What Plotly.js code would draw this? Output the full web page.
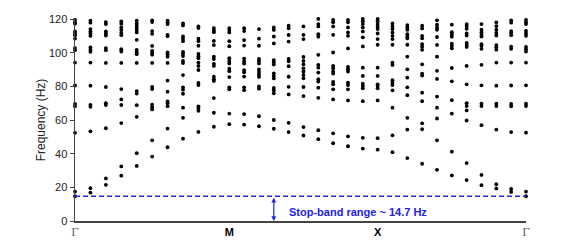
<!DOCTYPE html>
<html>
<head>
<meta charset="utf-8">
<script src="https://cdn.plot.ly/plotly-3.0.1.min.js"></script>
<style>html,body{margin:0;padding:0;background:#fff;}#chart{width:581px;height:248px;}</style>
</head>
<body>
<div id="chart"></div>
<script>
// k-path coordinate of each computed wave vector (Γ → M → X → Γ)
const kPath = [0, 1.04, 2.08, 3.12, 4.16, 5.2, 6.24, 7.28, 8.32, 9.36,
  10.4, 11.4, 12.4, 13.4, 14.4, 15.4, 16.4, 17.4, 18.4, 19.4,
  20.4, 21.4, 22.4, 23.4, 24.4, 25.4, 26.4, 27.4, 28.4, 29.4, 30.4];
const kLabels = ['Γ', 'M', 'X', 'Γ'];
const kLabelIndex = [0, 10, 20, 30];
const stopBand = 14.7;

// eigenfrequencies (Hz) at each k-point
const f00 = [119.5, 118.2, 117.2, 112.6, 111.4, 110.4, 108.4, 102.7, 101.5, 94.1, 80.5, 69.6, 68.2, 52.4, 17.5, 14.7];
const f01 = [119.0, 117.8, 114.0, 112.6, 111.4, 110.0, 103.1, 101.7, 100.5, 94.1, 80.4, 69.0, 67.8, 53.3, 19.5, 16.9];
const f02 = [118.2, 117.0, 112.6, 111.4, 110.2, 102.7, 101.5, 93.9, 79.6, 70.0, 68.9, 55.1, 25.3, 21.5];
const f03 = [118.6, 117.2, 115.0, 113.4, 111.8, 110.4, 102.1, 100.7, 93.9, 78.4, 72.2, 68.9, 58.2, 32.4, 26.9];
const f04 = [119.0, 117.4, 116.0, 114.6, 113.4, 112.0, 107.6, 101.7, 100.3, 99.1, 93.9, 77.2, 75.7, 68.8, 61.9, 40.3, 32.7];
const f05 = [120.2, 119.2, 118.2, 112.8, 111.2, 104.0, 101.0, 100.0, 98.8, 93.9, 79.7, 78.4, 69.1, 67.5, 66.3, 47.9, 38.3];
const f06 = [119.0, 118.0, 117.0, 110.6, 109.8, 100.1, 99.0, 97.6, 93.9, 83.4, 76.8, 71.0, 70.0, 68.2, 54.9, 43.8];
const f07 = [117.4, 116.2, 109.6, 108.2, 106.8, 100.5, 99.4, 98.0, 95.1, 93.8, 86.7, 79.4, 78.0, 75.6, 67.3, 61.3, 48.9];
const f08 = [115.6, 114.6, 108.3, 106.8, 104.1, 99.3, 97.9, 96.7, 94.1, 92.1, 89.7, 82.0, 80.8, 68.1, 66.9, 65.5, 52.9];
const f09 = [114.6, 113.2, 112.2, 107.0, 104.5, 97.6, 96.2, 93.4, 92.1, 85.7, 84.2, 83.2, 73.0, 64.3, 56.0];
const f10 = [114.6, 113.4, 112.0, 106.8, 103.8, 96.7, 95.1, 93.5, 90.5, 89.0, 85.5, 79.4, 78.2, 63.8, 57.5];
const f11 = [114.5, 112.8, 107.5, 104.2, 96.5, 94.8, 93.5, 89.6, 88.3, 85.8, 79.4, 77.7, 63.5, 57.3];
const f12 = [114.0, 108.3, 104.1, 96.3, 95.0, 93.6, 90.0, 88.5, 87.0, 85.6, 80.0, 78.6, 62.3, 56.3];
const f13 = [115.0, 113.5, 109.6, 105.5, 95.6, 94.3, 92.9, 87.7, 86.2, 84.7, 79.0, 77.7, 75.9, 60.0, 54.8];
const f14 = [116.0, 114.5, 110.5, 106.6, 96.3, 94.9, 92.0, 85.7, 79.7, 75.2, 58.3, 52.8];
const f15 = [115.6, 110.6, 108.1, 97.5, 95.1, 93.1, 90.7, 88.8, 86.8, 84.8, 79.6, 74.2, 55.8, 50.8];
const f16 = [120.0, 117.0, 115.6, 111.0, 109.5, 98.7, 92.7, 91.1, 88.2, 84.2, 82.8, 79.2, 73.2, 53.9, 48.6];
const f17 = [119.4, 118.0, 115.6, 110.6, 100.1, 92.1, 90.7, 88.8, 87.6, 82.6, 81.2, 78.2, 72.2, 52.1, 46.2];
const f18 = [119.4, 118.0, 115.0, 112.0, 110.0, 102.5, 91.5, 90.1, 88.8, 82.2, 80.8, 78.2, 71.6, 50.3, 44.4];
const f19 = [120.0, 118.6, 117.0, 115.0, 112.6, 109.1, 103.7, 91.1, 86.2, 81.6, 80.2, 78.8, 71.2, 49.4, 43.0];
const f20 = [120.0, 118.6, 117.0, 115.6, 114.0, 111.4, 108.1, 104.7, 91.1, 86.2, 81.2, 80.2, 78.8, 71.6, 49.2, 42.4];
const f21 = [117.4, 115.6, 114.0, 112.0, 110.0, 108.1, 104.7, 94.1, 92.7, 83.6, 82.2, 80.8, 77.6, 67.3, 50.9, 40.9];
const f22 = [116.4, 115.0, 113.6, 111.0, 109.6, 108.5, 104.7, 97.7, 90.1, 85.2, 79.4, 74.7, 61.3, 54.3, 37.4];
const f23 = [116.0, 114.4, 110.0, 108.5, 105.0, 103.5, 101.7, 93.1, 87.6, 86.4, 76.2, 71.2, 58.0, 54.5, 34.0];
const f24 = [119.2, 116.6, 115.0, 113.6, 109.3, 104.6, 97.6, 89.2, 84.4, 73.9, 67.3, 60.9, 47.9, 30.4];
const f25 = [116.6, 112.2, 110.8, 109.5, 105.3, 104.0, 102.6, 90.9, 83.0, 71.8, 63.8, 41.2, 27.1];
const f26 = [117.0, 115.8, 114.2, 111.4, 110.2, 105.8, 104.6, 103.4, 92.1, 81.2, 70.0, 68.3, 65.7, 59.7, 34.4, 24.3];
const f27 = [117.0, 113.6, 112.2, 110.6, 109.6, 105.0, 104.0, 102.3, 92.8, 80.6, 69.7, 68.3, 56.9, 27.4, 21.3];
const f28 = [118.0, 115.8, 113.6, 111.8, 110.2, 104.5, 103.2, 101.8, 94.1, 80.4, 69.7, 68.3, 54.3, 21.9, 19.3];
const f29 = [119.2, 117.8, 112.8, 111.8, 110.4, 103.6, 102.3, 94.1, 80.5, 69.5, 68.1, 52.8, 19.0, 17.3];
const f30 = [119.4, 118.0, 117.0, 113.0, 111.4, 110.0, 103.5, 102.1, 100.7, 94.1, 80.6, 69.7, 68.3, 52.5, 17.5, 14.7];

const freqByK = [f00, f01, f02, f03, f04, f05, f06, f07, f08, f09, f10, f11, f12, f13, f14, f15,
  f16, f17, f18, f19, f20, f21, f22, f23, f24, f25, f26, f27, f28, f29, f30];

const xs = [], ys = [];
freqByK.forEach((fs, i) => fs.forEach(f => { xs.push(kPath[i]); ys.push(f); }));

const blue = '#2020f0';
const tickText = kLabels.map(l => l === 'Γ'
  ? '<span style="font-family:\'Liberation Serif\',serif;font-size:13px;color:#666">Γ</span>'
  : '<b>' + l + '</b>');

const trace = {
  x: xs, y: ys, type: 'scatter', mode: 'markers',
  marker: {color: '#000', size: 3.8},
  cliponaxis: false, hoverinfo: 'skip'
};

const layout = {
  width: 581, height: 248,
  margin: {l: 75, r: 55, t: 19, b: 27},
  paper_bgcolor: '#fff', plot_bgcolor: '#fff',
  showlegend: false,
  font: {family: 'Liberation Sans, Arial, sans-serif', size: 11, color: '#222'},
  xaxis: {
    range: [kPath[0], kPath[30]], showgrid: false, zeroline: false,
    showline: true, linecolor: '#444', linewidth: 1.5,
    ticks: '', tickvals: kLabelIndex.map(i => kPath[i]), ticktext: tickText,
    tickfont: {size: 11, color: '#000'}
  },
  yaxis: {
    range: [0, 120], showgrid: false, zeroline: false,
    showline: true, linecolor: '#444', linewidth: 1.5,
    ticks: 'outside', ticklen: 4, tickcolor: '#444', tickwidth: 1,
    tickvals: [0, 20, 40, 60, 80, 100, 120],
    title: {text: 'Frequency (Hz)', font: {size: 12, color: '#222'}, standoff: 0}
  },
  shapes: [{
    type: 'line', xref: 'x', yref: 'y',
    x0: kPath[0], x1: kPath[30], y0: stopBand, y1: stopBand,
    line: {color: blue, width: 1.3, dash: '5px,3px'}
  }],
  annotations: [{
    xref: 'x', yref: 'y', axref: 'x', ayref: 'y',
    x: kPath[13], y: 0, ax: kPath[13], ay: stopBand,
    text: '', showarrow: true, arrowhead: 2, startarrowhead: 2, arrowside: 'end+start',
    arrowsize: 0.8, startarrowsize: 0.8, arrowwidth: 1.2, arrowcolor: blue, standoff: 0, startstandoff: 0
  }, {
    xref: 'x', yref: 'y', x: kPath[13], y: stopBand * 0.37,
    xanchor: 'left', yanchor: 'middle', xshift: 13, showarrow: false,
    text: '<b>Stop-band range ~ ' + stopBand + ' Hz</b>',
    font: {size: 11, color: blue}
  }]
};

Plotly.newPlot('chart', [trace], layout, {staticPlot: true, displayModeBar: false});
</script>
</body>
</html>
